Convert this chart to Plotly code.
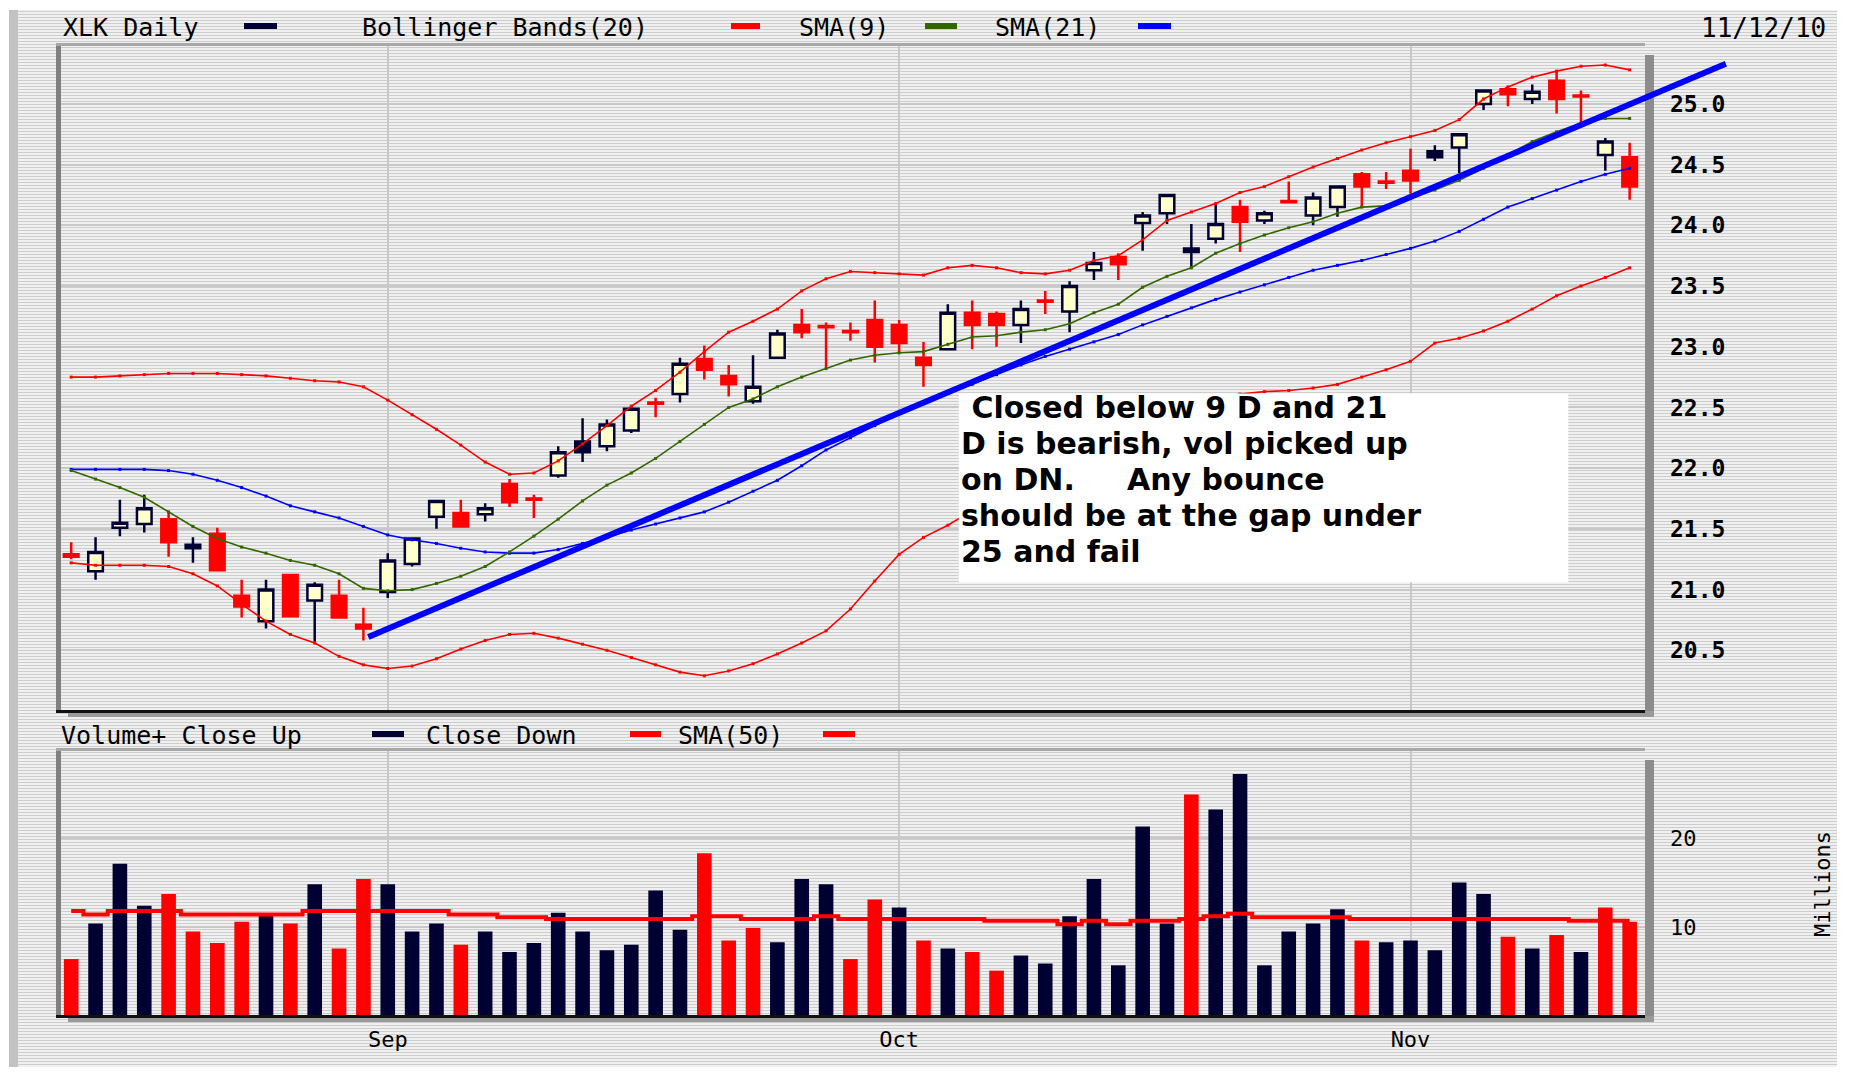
import base64
import pandas as pd
import plotly.graph_objects as go

W, H = 1849, 1078

# ---------------- data ----------------
DATES = [d.strftime('%Y-%m-%d') for d in pd.bdate_range('2010-08-13', '2010-11-12')
         if d.strftime('%Y-%m-%d') != '2010-09-06']

OPEN = [21.29, 21.15, 21.51, 21.54, 21.58, 21.37, 21.46, 20.95, 20.74, 21.12,
        20.91, 20.95, 20.71, 20.98, 21.21, 21.60, 21.63, 21.62, 21.87, 21.75,
        21.94, 22.22, 22.18, 22.31, 22.54, 22.61, 22.90, 22.76, 22.55, 22.91,
        23.18, 23.17, 23.13, 23.22, 23.18, 22.91, 22.98, 23.28, 23.27, 23.18,
        23.38, 23.29, 23.63, 23.74, 24.02, 24.10, 23.81, 23.89, 24.15, 24.04,
        24.20, 24.08, 24.15, 24.42, 24.36, 24.45, 24.61, 24.64, 25.00, 25.12,
        25.04, 25.19, 25.07, 24.58, 24.56]
HIGH = [21.39, 21.43, 21.74, 21.78, 21.64, 21.43, 21.51, 21.08, 21.08, 21.13,
        21.06, 21.08, 20.85, 21.30, 21.43, 21.73, 21.74, 21.71, 21.91, 21.78,
        22.18, 22.41, 22.40, 22.51, 22.58, 22.91, 23.01, 22.85, 22.93, 23.14,
        23.31, 23.20, 23.20, 23.38, 23.22, 23.04, 23.35, 23.38, 23.29, 23.38,
        23.46, 23.54, 23.78, 23.77, 24.11, 24.25, 24.01, 24.18, 24.21, 24.12,
        24.36, 24.27, 24.33, 24.44, 24.44, 24.63, 24.66, 24.75, 25.12, 25.12,
        25.16, 25.27, 25.11, 24.72, 24.68]
LOW = [21.25, 21.08, 21.44, 21.47, 21.27, 21.22, 21.16, 20.77, 20.68, 20.77,
       20.57, 20.77, 20.58, 20.93, 21.19, 21.50, 21.52, 21.56, 21.68, 21.59,
       21.92, 22.05, 22.14, 22.29, 22.42, 22.54, 22.73, 22.59, 22.53, 22.91,
       23.07, 22.83, 23.05, 22.87, 22.94, 22.67, 22.98, 22.98, 23.00, 23.03,
       23.27, 23.12, 23.55, 23.55, 23.79, 24.01, 23.64, 23.85, 23.78, 24.01,
       24.19, 24.00, 24.07, 24.15, 24.30, 24.26, 24.53, 24.43, 24.95, 24.98,
       25.00, 24.92, 24.85, 24.45, 24.21]
CLOSE = [21.27, 21.31, 21.55, 21.67, 21.39, 21.34, 21.16, 20.86, 21.00, 20.78,
         21.04, 20.77, 20.68, 21.24, 21.42, 21.73, 21.52, 21.67, 21.72, 21.74,
         22.13, 22.13, 22.36, 22.49, 22.53, 22.86, 22.81, 22.69, 22.67, 23.11,
         23.12, 23.16, 23.12, 23.00, 23.03, 22.85, 23.28, 23.18, 23.18, 23.31,
         23.37, 23.50, 23.69, 23.68, 24.08, 24.25, 23.78, 24.01, 24.03, 24.10,
         24.19, 24.23, 24.32, 24.32, 24.35, 24.37, 24.56, 24.75, 25.11, 25.08,
         25.10, 25.04, 25.06, 24.69, 24.32]
# 'k' = close up (dark), 'r' = close down (red)
CANDLE_DIR = list("rkkkrkrrkr" "krrkkkrkrr" "kkkkrkrrkk" "rrrrrrkrrk"
                  "rkkrkkkkrk" "rkkrrrkkkr" "krrkr")

UPPER_BB = [22.75, 22.75, 22.76, 22.77, 22.78, 22.78, 22.78, 22.77, 22.76, 22.74,
            22.72, 22.71, 22.67, 22.56, 22.44, 22.32, 22.19, 22.05, 21.95, 21.96,
            22.06, 22.20, 22.35, 22.51, 22.64, 22.79, 22.96, 23.12, 23.21, 23.31,
            23.46, 23.56, 23.62, 23.61, 23.60, 23.59, 23.65, 23.67, 23.65, 23.61,
            23.60, 23.63, 23.71, 23.75, 23.88, 24.04, 24.11, 24.18, 24.27, 24.32,
            24.40, 24.48, 24.55, 24.62, 24.68, 24.73, 24.78, 24.87, 25.04, 25.14,
            25.22, 25.27, 25.31, 25.32, 25.28]
LOWER_BB = [21.22, 21.20, 21.20, 21.20, 21.19, 21.13, 21.03, 20.88, 20.74, 20.63,
            20.56, 20.45, 20.38, 20.35, 20.37, 20.43, 20.51, 20.58, 20.63, 20.64,
            20.60, 20.55, 20.50, 20.44, 20.38, 20.32, 20.29, 20.33, 20.39, 20.47,
            20.56, 20.66, 20.84, 21.07, 21.29, 21.43, 21.53, 21.65, 21.78, 21.90,
            22.02, 22.13, 22.23, 22.32, 22.40, 22.47, 22.53, 22.58, 22.61, 22.63,
            22.64, 22.66, 22.69, 22.75, 22.81, 22.88, 23.03, 23.07, 23.13, 23.21,
            23.31, 23.42, 23.50, 23.57, 23.65]
SMA9 = [21.98, 21.91, 21.84, 21.76, 21.64, 21.52, 21.42, 21.35, 21.30, 21.24,
        21.20, 21.13, 21.01, 20.99, 21.00, 21.05, 21.11, 21.19, 21.31, 21.44,
        21.58, 21.73, 21.86, 21.96, 22.08, 22.22, 22.36, 22.50, 22.57, 22.67,
        22.75, 22.82, 22.89, 22.93, 22.95, 22.96, 23.02, 23.08, 23.09, 23.12,
        23.14, 23.19, 23.28, 23.35, 23.49, 23.58, 23.65, 23.77, 23.85, 23.92,
        23.98, 24.03, 24.10, 24.15, 24.16, 24.22, 24.29, 24.37, 24.47, 24.58,
        24.69, 24.77, 24.84, 24.88, 24.88]
SMA21 = [21.99, 21.99, 21.99, 21.99, 21.98, 21.95, 21.90, 21.84, 21.77, 21.69,
         21.64, 21.59, 21.52, 21.45, 21.41, 21.38, 21.34, 21.31, 21.30, 21.30,
         21.33, 21.38, 21.43, 21.49, 21.54, 21.59, 21.64, 21.72, 21.81, 21.90,
         22.02, 22.15, 22.25, 22.35, 22.45, 22.54, 22.62, 22.69, 22.77, 22.85,
         22.92, 22.98, 23.04, 23.10, 23.18, 23.25, 23.32, 23.39, 23.45, 23.51,
         23.57, 23.63, 23.67, 23.71, 23.76, 23.81, 23.87, 23.95, 24.05, 24.15,
         24.22, 24.29, 24.36, 24.42, 24.47]

VOLUME = [6.4, 10.4, 17.1, 12.4, 13.7, 9.5, 8.2, 10.6, 11.3, 10.4,
          14.8, 7.6, 15.4, 14.8, 9.5, 10.4, 8.0, 9.5, 7.2, 8.2,
          11.6, 9.5, 7.4, 8.0, 14.1, 9.7, 18.3, 8.5, 9.9, 8.3,
          15.4, 14.8, 6.4, 13.1, 12.2, 8.5, 7.6, 7.2, 5.1, 6.8,
          5.9, 11.2, 15.4, 5.7, 21.3, 10.4, 24.9, 23.2, 27.2, 5.7,
          9.5, 10.4, 12.0, 8.5, 8.3, 8.5, 7.4, 15.0, 13.7, 8.9,
          7.6, 9.1, 7.2, 12.2, 10.6]
VOLUME_DIR = list("rkkkrrrrkr" "krrkkkrkkk" "kkkkkkrrrk" "kkrrkrkrrk"
                  "kkkkkkrkkk" "kkkrkkkkkr" "krkrr")
VOLUME_SMA50 = [11.8, 11.4, 11.8, 11.8, 11.8, 11.4, 11.4, 11.4, 11.4, 11.4,
                11.8, 11.8, 11.8, 11.8, 11.8, 11.8, 11.4, 11.4, 11.1, 11.1,
                10.9, 10.9, 10.9, 10.9, 10.9, 10.9, 11.2, 11.2, 10.9, 10.9,
                10.9, 11.2, 10.9, 10.9, 10.9, 10.9, 10.9, 10.9, 10.7, 10.7,
                10.7, 10.3, 10.7, 10.3, 10.7, 10.7, 10.9, 11.2, 11.5, 11.1,
                11.1, 11.1, 11.1, 10.9, 10.9, 10.9, 10.9, 10.9, 10.9, 10.9,
                10.9, 10.9, 10.7, 10.7, 10.7]

PRICE_TICKS = [20.5, 21.0, 21.5, 22.0, 22.5, 23.0, 23.5, 24.0, 24.5, 25.0]
VOLUME_TICKS = [10, 20]
MONTH_TICKS = ['2010-09-01', '2010-10-01', '2010-11-01']
MONTH_LABELS = ['Sep', 'Oct', 'Nov']

# hand-drawn trend line (bar index, price)
TREND_START = (12.2, 20.61)
TREND_END = (67.95, 25.33)

NOTE_LINES = ["\u00a0Closed below 9 D and 21",
              "D is bearish, vol picked up",
              "on DN.\u00a0\u00a0\u00a0\u00a0 Any bounce",
              "should be at the gap under",
              "25 and fail"]

# ---------------- styling / geometry ----------------
NAVY = '#000033'
RED = '#ff0000'
GREEN = '#336600'
BLUE = '#0000ff'
BG = '#ffffcc'
GRID = '#c8c8c8'
MONO = 'DejaVu Sans Mono'

PLOT_L, PLOT_R = 60, 1645
P_TOP, P_BOT = 45, 711
V_TOP, V_BOT = 750, 1016

X_RANGE = [-0.46, 64.63]
PRICE_RANGE = [20.0, 25.485]
VOL_RANGE = [0, 29.9]


def fx(px):
    return px / W


def fy(py):
    return 1 - py / H


X_DOM = [fx(PLOT_L), fx(PLOT_R)]
P_DOM = [fy(P_BOT), fy(P_TOP)]
V_DOM = [fy(V_BOT), fy(V_TOP)]

fig = go.Figure()

# indicator lines
for vals, color, name in [(UPPER_BB, RED, 'BB upper'), (LOWER_BB, RED, 'BB lower'),
                          (SMA21, BLUE, 'SMA(21)'), (SMA9, GREEN, 'SMA(9)')]:
    fig.add_trace(go.Scatter(x=DATES, y=vals, mode='lines+markers', name=name,
                             line=dict(color=color, width=1.6),
                             marker=dict(color=color, size=3, symbol='square'),
                             xaxis='x', yaxis='y', showlegend=False, hoverinfo='skip'))

# candles, split by close direction (colour); hollow/filled from open vs close
for key, color in [('k', NAVY), ('r', RED)]:
    idx = [i for i, d in enumerate(CANDLE_DIR) if d == key]
    fig.add_trace(go.Candlestick(
        x=[DATES[i] for i in idx],
        open=[OPEN[i] for i in idx], high=[HIGH[i] for i in idx],
        low=[LOW[i] for i in idx], close=[CLOSE[i] for i in idx],
        increasing=dict(fillcolor=BG, line=dict(color=color, width=2.5)),
        decreasing=dict(fillcolor=color, line=dict(color=color, width=2.5)),
        whiskerwidth=0, xaxis='x', yaxis='y', showlegend=False, hoverinfo='skip'))

# volume
fig.add_trace(go.Bar(x=DATES, y=VOLUME,
                     marker=dict(color=[NAVY if d == 'k' else RED for d in VOLUME_DIR], line=dict(width=0)),
                     xaxis='x2', yaxis='y2', showlegend=False, hoverinfo='skip'))
fig.add_trace(go.Scatter(x=DATES, y=VOLUME_SMA50, mode='lines', line=dict(color=RED, width=4, shape='hvh'),
                         xaxis='x2', yaxis='y2', showlegend=False, hoverinfo='skip'))

shapes = []


def data_to_paper(i, p):
    x = X_DOM[0] + (i - X_RANGE[0]) / (X_RANGE[1] - X_RANGE[0]) * (X_DOM[1] - X_DOM[0])
    y = P_DOM[0] + (p - PRICE_RANGE[0]) / (PRICE_RANGE[1] - PRICE_RANGE[0]) * (P_DOM[1] - P_DOM[0])
    return x, y


# frame pieces (pixel geometry)
def prect(x0, y0, x1, y1, color, layer='above'):
    shapes.append(dict(type='rect', xref='paper', yref='paper', x0=fx(x0), x1=fx(x1),
                       y0=fy(y1), y1=fy(y0), fillcolor=color, line=dict(width=0), layer=layer))


prect(9, 10, 18, 1067, '#c2c2c2')
for top, bot in [(P_TOP, P_BOT), (V_TOP, V_BOT)]:
    prect(PLOT_R, top + 10, PLOT_R + 9, bot + 6, '#8c8c8c')
    prect(PLOT_L + 8, bot, PLOT_R + 9, bot + 6, '#9a9a9a')
    prect(PLOT_L - 4, top, PLOT_L + 1, bot + 2, '#808080')
    prect(PLOT_L - 4, top - 2, PLOT_R, top + 1, '#a8a8a8')
    prect(PLOT_L - 4, bot - 1, PLOT_R, bot + 2, '#111111')

# trend line
tx0, ty0 = data_to_paper(*TREND_START)
tx1, ty1 = data_to_paper(*TREND_END)
shapes.append(dict(type='line', xref='paper', yref='paper', x0=tx0, y0=ty0, x1=tx1, y1=ty1,
                   line=dict(color=BLUE, width=6), layer='above'))

# note box (bar index / price coordinates)
NOTE_BOX = dict(x0=36.45, x1=61.48, y0=21.06, y1=22.615)
shapes.append(dict(type='rect', xref='x', yref='y', fillcolor='white', line=dict(width=0),
                   layer='above', **NOTE_BOX))

annotations = []
NOTE_TOP, NOTE_STEP = 22.50, 0.296
for k, line in enumerate(NOTE_LINES):
    annotations.append(dict(text=line, xref='x', yref='y', x=NOTE_BOX['x0'] + 0.05,
                            y=NOTE_TOP - k * NOTE_STEP, xanchor='left', yanchor='middle',
                            showarrow=False, borderpad=0,
                            font=dict(family='DejaVu Sans', size=30, color='black', weight='bold')))


def label(text, x, y, anchor='left', size=25, angle=0):
    annotations.append(dict(text=text, xref='paper', yref='paper', x=fx(x), y=fy(y),
                            xanchor=anchor, yanchor='middle', showarrow=False, textangle=angle,
                            font=dict(family=MONO, size=size, color='black')))


def swatch(x0, x1, y, color):
    prect(x0, y - 3, x1, y + 3, color)


HEAD_Y = 27
label('XLK Daily', 61, HEAD_Y)
swatch(244, 277, HEAD_Y - 1, NAVY)
label('Bollinger Bands(20)', 360, HEAD_Y)
swatch(731, 760, HEAD_Y - 1, RED)
label('SMA(9)', 797, HEAD_Y)
swatch(925, 957, HEAD_Y - 1, GREEN)
label('SMA(21)', 993, HEAD_Y)
swatch(1138, 1171, HEAD_Y - 1, BLUE)
label('11/12/10', 1828, 28, anchor='right', size=26)

VL_Y = 735
label('Volume+ Close Up', 59, VL_Y)
swatch(372, 404, VL_Y - 1, NAVY)
label('Close Down', 424, VL_Y)
swatch(630, 661, VL_Y - 1, RED)
label('SMA(50)', 676, VL_Y)
swatch(823, 855, VL_Y - 1, RED)

label('Millions', 1822, 884, anchor='center', size=22, angle=-90)

# striped page background
svg = ("<svg xmlns='http://www.w3.org/2000/svg' width='1825' height='1057' preserveAspectRatio='none'>"
       "<defs><pattern id='s' width='10' height='3' patternUnits='userSpaceOnUse'>"
       "<rect width='10' height='3' fill='#f0f0f0'/><rect y='1' width='10' height='1' fill='#cdcdcd'/>"
       "</pattern></defs><rect width='100%' height='100%' fill='url(#s)'/></svg>")
uri = 'data:image/svg+xml;base64,' + base64.b64encode(svg.encode()).decode()

axis_common = dict(showline=False, zeroline=False, gridcolor=GRID, gridwidth=2, ticks='')

fig.update_layout(
    width=W, height=H, autosize=False,
    margin=dict(l=0, r=0, t=0, b=0),
    paper_bgcolor='white', plot_bgcolor=BG,
    showlegend=False, boxgap=0.4, boxgroupgap=0, bargap=0.4,
    images=[dict(source=uri, xref='paper', yref='paper', x=fx(12), y=fy(10),
                 sizex=fx(1837) - fx(12), sizey=fy(10) - fy(1067),
                 xanchor='left', yanchor='top', sizing='stretch', layer='below')],
    xaxis=dict(domain=X_DOM, anchor='y', type='category', categoryorder='array', categoryarray=DATES,
               range=X_RANGE, tickvals=MONTH_TICKS, showticklabels=False,
               rangeslider=dict(visible=False), **axis_common),
    yaxis=dict(domain=P_DOM, anchor='x', side='right', range=PRICE_RANGE,
               tickvals=PRICE_TICKS, ticktext=[f'{v:.1f}' for v in PRICE_TICKS],
               ticklabelstandoff=24,
               tickfont=dict(family=MONO, size=23, color='black', weight='bold'), **axis_common),
    xaxis2=dict(domain=X_DOM, anchor='y2', type='category', categoryorder='array', categoryarray=DATES,
                range=X_RANGE, matches='x', tickvals=MONTH_TICKS, ticktext=MONTH_LABELS,
                ticklabelstandoff=8,
                tickfont=dict(family=MONO, size=22, color='black'), **axis_common),
    yaxis2=dict(domain=V_DOM, anchor='x2', side='right', range=VOL_RANGE,
                tickvals=VOLUME_TICKS, ticktext=[str(v) for v in VOLUME_TICKS],
                ticklabelstandoff=24,
                tickfont=dict(family=MONO, size=22, color='black'), **axis_common),
    shapes=shapes, annotations=annotations,
)

fig.write_html("out.html", config={'displayModeBar': False},
               post_script="document.body.style.margin='0';document.body.style.overflow='hidden';")
